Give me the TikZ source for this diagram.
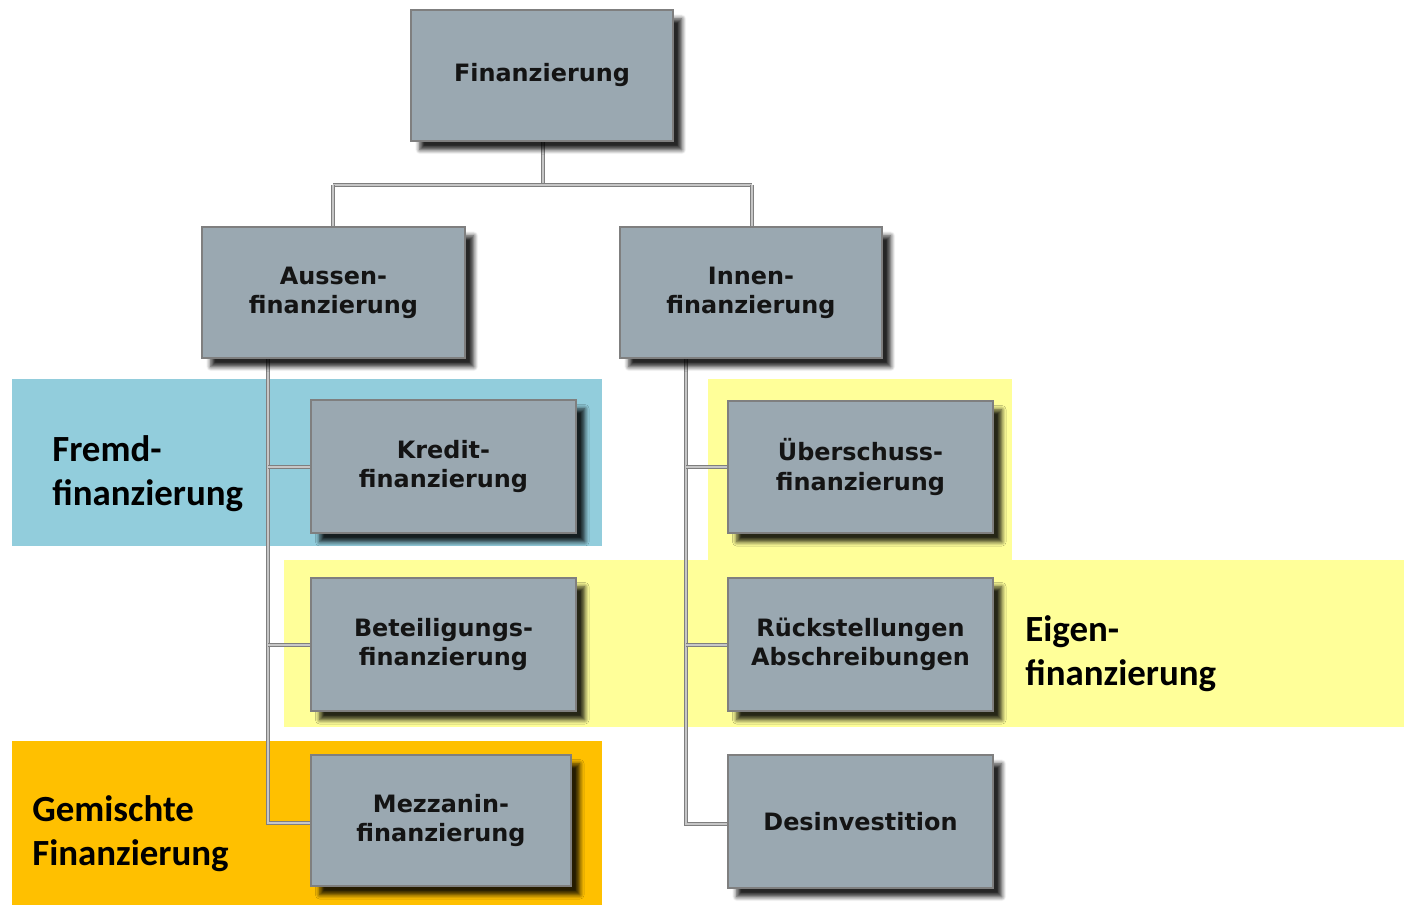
\documentclass[tikz,border=0pt]{standalone}
\usepackage{fontspec}
\setmainfont{DejaVu Sans}
\newfontfamily\labelfont{Carlito}
\usetikzlibrary{shadows.blur}
\definecolor{boxfill}{HTML}{9AA8B1}
\definecolor{boxline}{HTML}{7F7F7F}
\definecolor{fremdbg}{HTML}{92CDDC}
\definecolor{eigenbg}{HTML}{FFFF99}
\definecolor{mixbg}{HTML}{FFC000}
\tikzset{
  px/.style={x=0.02cm,y=-0.02cm},
  orgbox/.style={draw=boxline, line width=1.2pt, fill=boxfill, align=center,
    font=\fontsize{13.6}{16.6}\selectfont\bfseries, text=black!92,
    inner sep=0pt,
    blur shadow={shadow xshift=5pt, shadow yshift=-5pt, shadow blur steps=6,
      shadow opacity=85, shadow blur radius=2.5pt}},
  link/.style={draw=boxline, double=gray!45, double distance=1.1pt, line width=0.8pt},
  grouplabel/.style={font=\labelfont\fontsize{21}{25}\selectfont\bfseries,
    align=left, anchor=west, inner sep=0pt, text=black}
}
\begin{document}
\begin{tikzpicture}[px]
\useasboundingbox (0,0) rectangle (1404,905);
% coloured group areas
\fill[fremdbg] (12,379) rectangle (602,546);
\fill[eigenbg] (708,379) rectangle (1012,560);
\fill[eigenbg] (284,560) rectangle (1404,727);
\fill[mixbg] (12,741) rectangle (602,905);
% group labels
\node[grouplabel] (lfremd) at (52,474) {Fremd-\\finanzierung};
\node[grouplabel] (leigen) at (1025,654) {Eigen-\\finanzierung};
\node[grouplabel] (lmix) at (32,834) {Gemischte\\Finanzierung};
% junction points of the tree
\coordinate (top) at (543,185);
\coordinate (ja) at (333,185);
\coordinate (ji) at (752,185);
\coordinate (la) at (268,358);
\coordinate (li) at (686,358);
% connectors
\draw[link] (543,141) -- (top);
\draw[link] (ja) -- (ji);
\draw[link] (ja) -- (333,227);
\draw[link] (ji) -- (752,227);
\draw[link] (la) -- (268,823) -- (311,823);
\draw[link] (268,467) -- (311,467);
\draw[link] (268,645) -- (311,645);
\draw[link] (li) -- (686,824) -- (728,824);
\draw[link] (686,467) -- (728,467);
\draw[link] (686,645) -- (728,645);
% boxes
\node[orgbox, minimum width=5.24cm, minimum height=2.62cm] (fin) at (542,75.5) {Finanzierung};
\node[orgbox, minimum width=5.26cm, minimum height=2.62cm] (aus) at (333.5,292.5) {Aussen-\\finanzierung};
\node[orgbox, minimum width=5.24cm, minimum height=2.62cm] (inn) at (751,292.5) {Innen-\\finanzierung};
\node[orgbox, minimum width=5.30cm, minimum height=2.66cm] (kre) at (443.5,466.5) {Kredit-\\finanzierung};
\node[orgbox, minimum width=5.30cm, minimum height=2.66cm] (bet) at (443.5,644.5) {Beteiligungs-\\finanzierung};
\node[orgbox, minimum width=5.20cm, minimum height=2.62cm] (mez) at (441,820.5) {Mezzanin-\\finanzierung};
\node[orgbox, minimum width=5.30cm, minimum height=2.64cm] (ueb) at (860.5,467) {Überschuss-\\finanzierung};
\node[orgbox, minimum width=5.30cm, minimum height=2.66cm] (rue) at (860.5,644.5) {Rückstellungen\\Abschreibungen};
\node[orgbox, minimum width=5.30cm, minimum height=2.66cm] (des) at (860.5,821.5) {Desinvestition};
\end{tikzpicture}
\end{document}
